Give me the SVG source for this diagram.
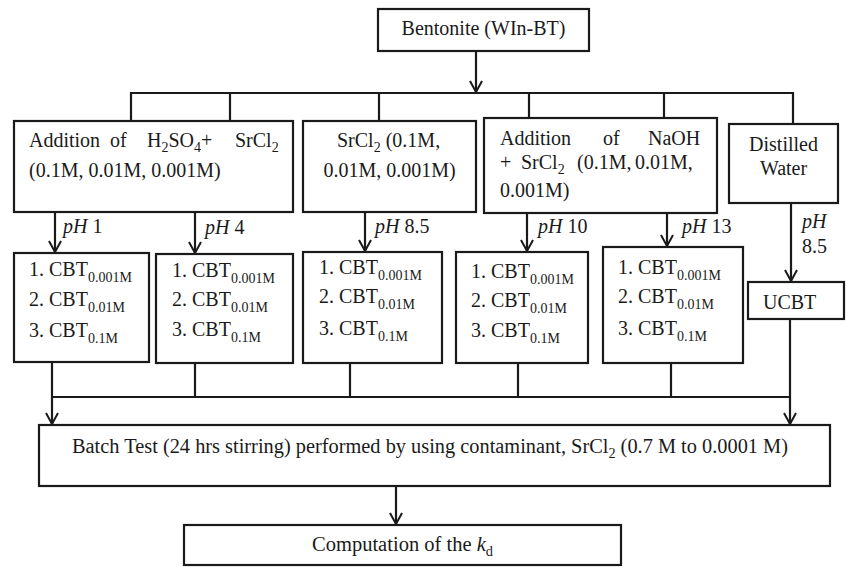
<svg xmlns="http://www.w3.org/2000/svg" width="846" height="567" viewBox="0 0 846 567" font-family="'Liberation Serif', 'Times New Roman', Times, serif">
<defs>
<style>
.box{fill:#fff;stroke:#1a1a1a;stroke-width:2.2}
.ln{fill:none;stroke:#1a1a1a;stroke-width:2.2}
.ar{fill:none;stroke:#1a1a1a;stroke-width:2.2;marker-end:url(#v)}
text, tspan{font-family:'Liberation Serif', 'Times New Roman', Times, serif}
text{font-size:20px;fill:#1a1a1a}
.it{font-style:italic}
.sub{font-size:14px}
</style>
<marker id="v" viewBox="-13 -8 15 16" refX="0" refY="0" markerWidth="15" markerHeight="16" markerUnits="userSpaceOnUse" orient="auto">
<path d="M-11,-6 L0,0 L-11,6" fill="none" stroke="#1a1a1a" stroke-width="2"/>
</marker>
</defs>
<rect width="846" height="567" fill="#fff"/>

<g id="connectors">
<line class="ar" x1="476" y1="51" x2="476" y2="92"/>
<polyline class="ln" points="131,121 131,93 793,93 793,124"/>
<line class="ln" x1="230" y1="93" x2="230" y2="121"/>
<line class="ln" x1="379" y1="93" x2="379" y2="121"/>
<line class="ln" x1="529" y1="93" x2="529" y2="118"/>
<line class="ln" x1="664" y1="93" x2="664" y2="118"/>

<line class="ar" x1="55" y1="212" x2="55" y2="252"/>
<line class="ar" x1="195" y1="212" x2="195" y2="253"/>
<line class="ar" x1="365" y1="212" x2="365" y2="251"/>
<line class="ar" x1="527" y1="213" x2="527" y2="251"/>
<line class="ar" x1="667" y1="213" x2="667" y2="246"/>
<line class="ar" x1="791" y1="203" x2="791" y2="281"/>

<line class="ln" x1="52" y1="362" x2="52" y2="397"/>
<line class="ln" x1="195" y1="363" x2="195" y2="397"/>
<line class="ln" x1="350" y1="363" x2="350" y2="397"/>
<line class="ln" x1="518" y1="363" x2="518" y2="397"/>
<line class="ln" x1="671" y1="363" x2="671" y2="397"/>
<line class="ln" x1="790" y1="319" x2="790" y2="397"/>
<line class="ln" x1="52" y1="397" x2="790" y2="397"/>
<line class="ar" x1="52" y1="397" x2="52" y2="424"/>
<line class="ar" x1="790" y1="397" x2="790" y2="424"/>
<line class="ar" x1="396" y1="486" x2="396" y2="524"/>

<text x="63" y="233"><tspan class="it">pH</tspan> 1</text>
<text x="205" y="234"><tspan class="it">pH</tspan> 4</text>
<text x="375" y="233"><tspan class="it">pH</tspan> 8.5</text>
<text x="538" y="233"><tspan class="it">pH</tspan> 10</text>
<text x="682" y="233"><tspan class="it">pH</tspan> 13</text>
<text x="802" y="228" class="it">pH</text>
<text x="802" y="253">8.5</text>
</g>

<g id="bentonite">
<rect class="box" x="378" y="9" width="211" height="42"/>
<text x="483.5" y="35" text-anchor="middle">Bentonite (WIn-BT)</text>
</g>

<g id="acid">
<rect class="box" x="14" y="121" width="279" height="91"/>
<text y="147"><tspan x="29">Addition</tspan><tspan x="110">of</tspan><tspan x="147">H</tspan><tspan class="sub" dy="5">2</tspan><tspan dy="-5">SO</tspan><tspan class="sub" dy="5">4</tspan><tspan dy="-5">+</tspan><tspan x="235">SrCl</tspan><tspan class="sub" dy="5">2</tspan></text>
<text x="29" y="177">(0.1M, 0.01M, 0.001M)</text>
</g>

<g id="srcl2">
<rect class="box" x="303" y="121" width="173" height="91"/>
<text x="337" y="147">SrCl<tspan class="sub" dy="5">2</tspan><tspan dy="-5"> (0.1M,</tspan></text>
<text x="389.5" y="177" text-anchor="middle">0.01M, 0.001M)</text>
</g>

<g id="naoh">
<rect class="box" x="484" y="118" width="233" height="95"/>
<text y="145"><tspan x="500">Addition</tspan><tspan x="603">of</tspan><tspan x="648">NaOH</tspan></text>
<text y="169"><tspan x="500">+</tspan><tspan x="521">SrCl</tspan><tspan class="sub" dy="5">2</tspan><tspan x="577" dy="-5">(0.1M,</tspan><tspan x="635">0.01M,</tspan></text>
<text x="500" y="197">0.001M)</text>
</g>

<g id="water">
<rect class="box" x="729" y="124" width="109" height="79"/>
<text x="783.5" y="151" text-anchor="middle">Distilled</text>
<text x="783.5" y="175" text-anchor="middle">Water</text>
</g>

<g id="cbt-ph1">
<rect class="box" x="14" y="253" width="135" height="109"/>
<text x="29" y="276">1. CBT<tspan class="sub" dy="6">0.001M</tspan></text>
<text x="29" y="306">2. CBT<tspan class="sub" dy="6">0.01M</tspan></text>
<text x="29" y="337">3. CBT<tspan class="sub" dy="6">0.1M</tspan></text>
</g>

<g id="cbt-ph4">
<rect class="box" x="156" y="254" width="137" height="109"/>
<text x="172" y="277">1. CBT<tspan class="sub" dy="6">0.001M</tspan></text>
<text x="172" y="306">2. CBT<tspan class="sub" dy="6">0.01M</tspan></text>
<text x="172" y="336">3. CBT<tspan class="sub" dy="6">0.1M</tspan></text>
</g>

<g id="cbt-ph85">
<rect class="box" x="303" y="252" width="139" height="111"/>
<text x="319" y="274">1. CBT<tspan class="sub" dy="6">0.001M</tspan></text>
<text x="319" y="303">2. CBT<tspan class="sub" dy="6">0.01M</tspan></text>
<text x="319" y="335">3. CBT<tspan class="sub" dy="6">0.1M</tspan></text>
</g>

<g id="cbt-ph10">
<rect class="box" x="456" y="252" width="132" height="111"/>
<text x="471" y="278">1. CBT<tspan class="sub" dy="6">0.001M</tspan></text>
<text x="471" y="307">2. CBT<tspan class="sub" dy="6">0.01M</tspan></text>
<text x="471" y="337">3. CBT<tspan class="sub" dy="6">0.1M</tspan></text>
</g>

<g id="cbt-ph13">
<rect class="box" x="603" y="247" width="140" height="116"/>
<text x="618" y="274">1. CBT<tspan class="sub" dy="6">0.001M</tspan></text>
<text x="618" y="303">2. CBT<tspan class="sub" dy="6">0.01M</tspan></text>
<text x="618" y="335">3. CBT<tspan class="sub" dy="6">0.1M</tspan></text>
</g>

<g id="ucbt">
<rect class="box" x="748" y="282" width="96" height="37"/>
<text x="763" y="309">UCBT</text>
</g>

<g id="batch">
<rect class="box" x="39" y="425" width="791" height="61"/>
<text x="72" y="453" font-size="21" textLength="716" lengthAdjust="spacingAndGlyphs">Batch Test (24 hrs stirring) performed by using contaminant, SrCl<tspan class="sub" dy="5">2</tspan><tspan dy="-5"> (0.7 M to 0.0001 M)</tspan></text>
</g>

<g id="computation">
<rect class="box" x="184" y="525" width="437" height="40"/>
<text x="312" y="551" font-size="21" textLength="181" lengthAdjust="spacingAndGlyphs">Computation of the <tspan class="it">k</tspan><tspan class="sub" dy="5">d</tspan></text>
</g>
</svg>
